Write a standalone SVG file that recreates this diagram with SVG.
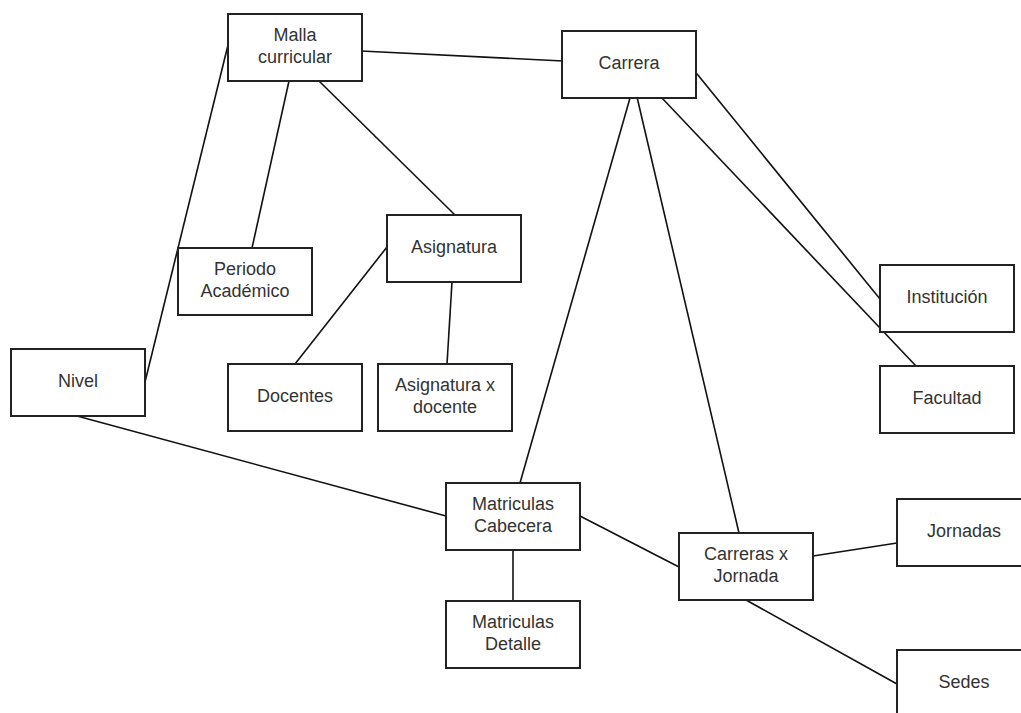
<svg xmlns="http://www.w3.org/2000/svg" width="1021" height="713" viewBox="0 0 1021 713">
  <style>
    .box { fill: #ffffff; stroke: #222222; stroke-width: 2; }
    .lbl { font-family: "Liberation Sans", Arial, sans-serif; font-size: 18px; fill: #333333; text-anchor: middle; }
    .links line { stroke: #111111; stroke-width: 1.6; fill: none; }
  </style>
  <rect width="1021" height="713" fill="#ffffff"/>

  <!-- relationships -->
  <g id="connectors" class="links">
    <line x1="361" y1="51" x2="563" y2="61"/>
    <line x1="228" y1="45" x2="145" y2="382"/>
    <line x1="289" y1="81" x2="252" y2="248"/>
    <line x1="319" y1="81" x2="455" y2="215"/>
    <line x1="387" y1="247" x2="295" y2="364"/>
    <line x1="452" y1="282" x2="447" y2="364"/>
    <line x1="693" y1="69" x2="880" y2="299"/>
    <line x1="662" y1="98" x2="916" y2="366"/>
    <line x1="630" y1="98" x2="520" y2="483"/>
    <line x1="637" y1="97" x2="739" y2="533"/>
    <line x1="77" y1="416" x2="446" y2="516"/>
    <line x1="580" y1="516" x2="679" y2="567"/>
    <line x1="513" y1="550" x2="513" y2="601"/>
    <line x1="813" y1="556" x2="897" y2="543"/>
    <line x1="746" y1="600" x2="897" y2="684"/>
  </g>

  <!-- entities -->
  <g id="malla-curricular">
    <rect class="box" x="228" y="14" width="134" height="67"/>
    <text class="lbl" x="295" y="41">Malla</text>
    <text class="lbl" x="295" y="63">curricular</text>
  </g>
  <g id="carrera">
    <rect class="box" x="562" y="31" width="134" height="67"/>
    <text class="lbl" x="629" y="69">Carrera</text>
  </g>
  <g id="periodo-academico">
    <rect class="box" x="178" y="248" width="134" height="67"/>
    <text class="lbl" x="245" y="275">Periodo</text>
    <text class="lbl" x="245" y="297">Académico</text>
  </g>
  <g id="asignatura">
    <rect class="box" x="387" y="215" width="134" height="67"/>
    <text class="lbl" x="454" y="253">Asignatura</text>
  </g>
  <g id="nivel">
    <rect class="box" x="11" y="349" width="134" height="67"/>
    <text class="lbl" x="78" y="387">Nivel</text>
  </g>
  <g id="docentes">
    <rect class="box" x="228" y="364" width="134" height="67"/>
    <text class="lbl" x="295" y="402">Docentes</text>
  </g>
  <g id="asignatura-x-docente">
    <rect class="box" x="378" y="364" width="134" height="67"/>
    <text class="lbl" x="445" y="391">Asignatura x</text>
    <text class="lbl" x="445" y="413">docente</text>
  </g>
  <g id="institucion">
    <rect class="box" x="880" y="265" width="134" height="67"/>
    <text class="lbl" x="947" y="303">Institución</text>
  </g>
  <g id="facultad">
    <rect class="box" x="880" y="366" width="134" height="67"/>
    <text class="lbl" x="947" y="404">Facultad</text>
  </g>
  <g id="matriculas-cabecera">
    <rect class="box" x="446" y="483" width="134" height="67"/>
    <text class="lbl" x="513" y="510">Matriculas</text>
    <text class="lbl" x="513" y="532">Cabecera</text>
  </g>
  <g id="matriculas-detalle">
    <rect class="box" x="446" y="601" width="134" height="67"/>
    <text class="lbl" x="513" y="628">Matriculas</text>
    <text class="lbl" x="513" y="650">Detalle</text>
  </g>
  <g id="carreras-x-jornada">
    <rect class="box" x="679" y="533" width="134" height="67"/>
    <text class="lbl" x="746" y="560">Carreras x</text>
    <text class="lbl" x="746" y="582">Jornada</text>
  </g>
  <g id="jornadas">
    <rect class="box" x="897" y="499" width="134" height="67"/>
    <text class="lbl" x="964" y="537">Jornadas</text>
  </g>
  <g id="sedes">
    <rect class="box" x="897" y="650" width="134" height="67"/>
    <text class="lbl" x="964" y="688">Sedes</text>
  </g>
</svg>
